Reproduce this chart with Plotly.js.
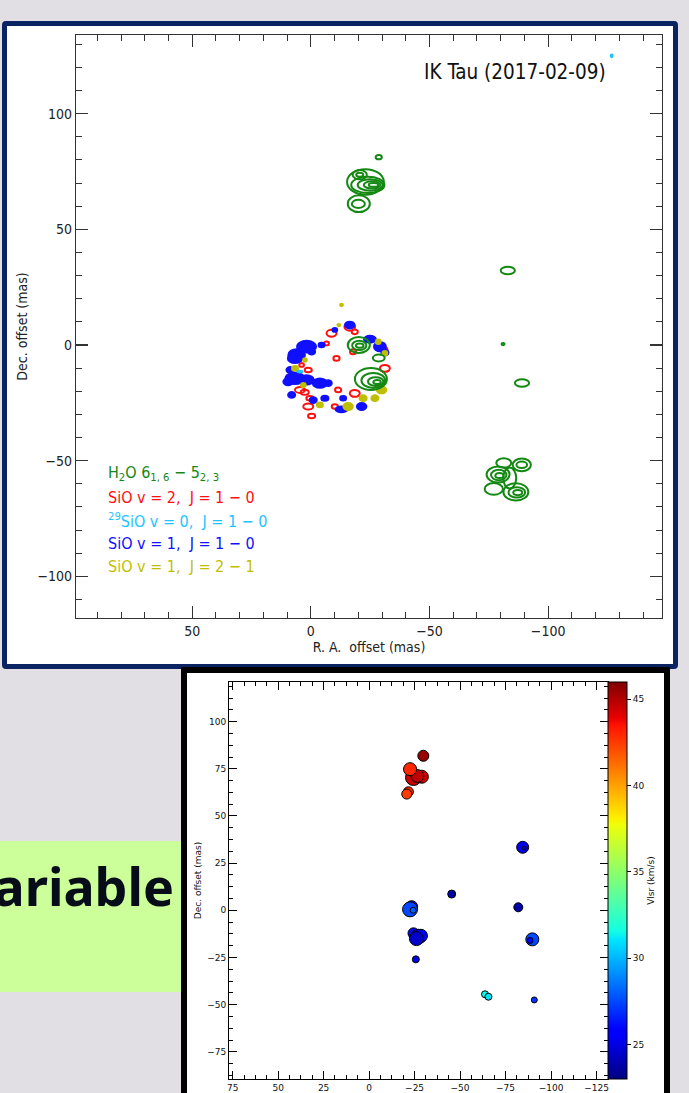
<!DOCTYPE html>
<html><head><meta charset="utf-8">
<script src="https://cdn.plot.ly/plotly-3.0.1.min.js"></script>
<style>
html,body{margin:0;padding:0;}
body{width:689px;height:1093px;overflow:hidden;background:#e1dfe4;position:relative;font-family:"DejaVu Sans",sans-serif;}
#panelTop{position:absolute;left:2px;top:21px;width:676px;height:648px;box-sizing:border-box;border:5px solid #0a2463;border-radius:4px;background:#fff;}
#greenBox{position:absolute;left:0;top:841px;width:182px;height:151px;background:#ccff99;overflow:hidden;}
#greenText{position:absolute;right:8px;top:19px;font-family:"Noto Sans",sans-serif;font-weight:bold;font-size:52px;line-height:52px;color:#060d18;white-space:nowrap;}
#panelBottom{position:absolute;left:181px;top:667px;width:489px;height:480px;box-sizing:border-box;border:6px solid #000;background:#fff;}
#chartTop{position:absolute;left:0;top:0;width:689px;height:670px;}
#chartBottom{position:absolute;left:187px;top:673px;width:482px;height:470px;}
</style></head>
<body>
<div id="panelTop"></div>
<div id="greenBox"><div id="greenText">ariable</div></div>
<div id="panelBottom"></div>
<div id="chartTop"></div>
<div id="chartBottom"></div>
<script>
// ---------- Top chart: maser contour components (RA offset, Dec offset, width, height in mas) ----------
const h2oX = [-28.6,-23.0,-20.6,-20.6,-24.0,-25.0,-25.8,-26.4,-20.2,-20.0,-83.0,-81.0,-89.0,-78.9,-79.2,-79.5,-81.3,-88.9,-88.9,-77.1,-86.4,-86.8,-87.2,-83.8,-20.2,-20.4,-20.6,-28.6,-25.3,-26.3,-27.3,-27.9];
const h2oY = [81.2,70.5,73.6,73.6,69.2,69.2,69.2,69.2,61.1,61.0,32.2,0.4,-16.4,-56.0,-56.2,-56.4,-51.0,-51.8,-51.8,-62.2,-63.5,-63.7,-63.8,-57.5,0.0,-0.2,-0.3,-5.6,-14.7,-15.3,-15.8,-16.0];
const h2oW = [2.6,15.5,6.0,3.0,14.0,10.5,7.0,4.0,9.3,5.5,6.0,1.3,6.0,9.7,6.5,3.5,6.3,7.7,4.5,7.7,10.5,7.0,3.8,5.5,9.3,6.0,3.2,5.0,13.5,10.0,6.5,3.2];
const h2oH = [1.8,11.0,4.0,1.8,7.0,5.0,3.2,1.6,7.3,3.5,3.2,1.0,3.2,6.9,4.5,2.2,4.0,5.5,2.8,5.0,7.5,4.5,2.2,9.0,6.9,4.0,1.8,3.0,9.5,6.5,3.8,1.8];

const sio2X = [-8.7,-16.4,-18.5,-10.8,-17.8,1.1,-31.2,4.6,2.6,0.4,1.1,-0.3,-11.5,-18.5,-10.1,-6.6,3.9,-31.0];
const sio2Y = [5.1,7.9,5.7,-5.8,-2.9,-10.8,-10.1,-19.4,-20.4,-23.0,-26.6,-30.7,-19.4,-20.9,-26.6,0.7,-8.6,-2.0];
const sio2W = [4.2,4.5,2.6,2.6,2.6,3.0,4.2,4.2,3.4,3.0,4.2,3.0,2.6,4.2,2.6,2.0,2.0,2.5];
const sio2H = [3.0,3.4,2.0,2.0,2.2,2.0,3.0,2.6,2.2,2.0,2.6,2.0,2.0,3.0,2.0,1.6,1.6,2.0];

const si29X = [4.6,-126.8];
const si29Y = [-11.5,125.0];
const si29W = [2.2,0.8];
const si29H = [0.8,1.2];

const sio1X = [-16.4,-10.1,-4.5,1.8,6.0,6.7,-0.3,-24.9,-29.1,-31.2,6.7,1.8,-3.8,-7.3,9.6,8.8,8.1,-5.9,-1.0,-13.6,-12.9,-21.4];
const sio1Y = [8.6,6.5,0.0,-0.7,-4.3,-5.8,-2.9,2.5,-0.7,-3.3,-14.4,-15.1,-16.5,-16.5,-15.9,-10.8,-21.6,-23.0,-23.8,-23.0,-27.8,-26.6];
const sio1W = [4.0,2.0,2.5,8.0,7.0,6.0,3.0,5.0,5.0,3.0,8.0,6.0,6.0,3.0,4.0,3.0,3.0,3.0,3.0,2.5,5.0,4.0];
const sio1H = [3.0,1.6,2.0,5.0,5.0,4.0,2.5,3.0,4.0,2.5,5.0,4.0,4.0,2.5,3.0,2.5,2.5,2.2,2.5,2.0,2.5,3.0];

const sio21X = [-12.9,-11.8,-28.4,-31.2,6.7,3.2,-29.8,-27.0,-22.0,-3.8,-15.7,2.5];
const sio21Y = [17.3,8.6,1.4,-3.6,-10.1,-17.3,-19.4,-23.0,-23.0,-25.9,-26.6,-6.5];
const sio21W = [1.2,1.2,2.0,2.0,2.5,2.0,4.0,3.0,3.0,2.5,4.0,1.5];
const sio21H = [1.0,1.0,2.0,2.0,2.0,1.8,3.0,2.5,2.5,2.0,3.0,1.5];

const legendLabels = [
  'H<sub>2</sub>O 6<sub>1, 6</sub> \u2212 5<sub>2, 3</sub>',
  'SiO v = 2,\u00a0 J = 1 \u2212 0',
  '<sup>29</sup>SiO v = 0,\u00a0 J = 1 \u2212 0',
  'SiO v = 1,\u00a0 J = 1 \u2212 0',
  'SiO v = 1,\u00a0 J = 2 \u2212 1'
];
const topTitle = 'IK Tau (2017-02-09)';

// ---------- Bottom chart: H2O maser spots ----------
const ptsX   = [-29.8,-24.4,-29.0,-26.5,-22.5,-21.6,-20.7,-84.4,-85.2,-45.4,-46.0,-23.4,-22.5,-24.2,-82.0,-24.4,-27.0,-28.5,-26.0,-25.7,-89.7,-88.5,-63.7,-65.6,-90.8];
const ptsY   = [81.9,70.4,70.8,71.2,74.8,62.8,61.6,33.4,33.0,8.6,8.6,1.9,0.5,0.0,1.6,-12.2,-14.0,-13.5,-15.0,-26.0,-15.4,-16.0,-44.5,-45.8,-47.5];
const ptsVel = [45.5,44.5,44.5,44.8,43.0,42.8,42.5,25.3,24.5,25.0,25.5,26.0,27.5,28.0,23.8,26.0,25.0,25.5,24.5,25.0,27.5,25.5,31.5,31.0,27.0];
const ptsSize= [11,16,13,13,13,10,10,12,4,8,4,12,15,6,9,11,15,13,14,7,13,6,7,7,6];
const cbTicks = [25,30,35,40,45];

// ---------- styles ----------
const fontC = '"DejaVu Sans Condensed", "DejaVu Sans", sans-serif';
const colH2O = '#138813', colSiO2 = '#ff1010', col29 = '#1ec4ff', colSiO1 = '#1010ff', colSiO21 = '#bfbf00';
const legendColors = [colH2O, colSiO2, col29, colSiO1, colSiO21];

const shapes = [];
function addContours(xs, ys, ws, hs, color, filled) {
  for (let i = 0; i < xs.length; i++) {
    shapes.push({type:'circle', xref:'x', yref:'y',
      x0: xs[i] - ws[i]/2, x1: xs[i] + ws[i]/2,
      y0: ys[i] - hs[i]/2, y1: ys[i] + hs[i]/2,
      line:{color:color, width:2}, fillcolor: filled ? color : 'rgba(0,0,0,0)'});
  }
}
addContours(sio2X, sio2Y, sio2W, sio2H, colSiO2, false);
addContours(sio1X, sio1Y, sio1W, sio1H, colSiO1, true);
addContours(sio21X, sio21Y, sio21W, sio21H, colSiO21, true);
addContours(h2oX, h2oY, h2oW, h2oH, colH2O, false);
addContours(si29X, si29Y, si29W, si29H, col29, false);

const legendY = [0.2487, 0.2075, 0.168, 0.1286, 0.0875];
const annTop = [{text: topTitle, xref:'paper', yref:'paper', x:0.908, y:0.9365, xanchor:'right', yanchor:'middle', showarrow:false, font:{family:fontC, size:20.5, color:'#111'}}];
legendLabels.forEach((t,i)=>annTop.push({text:t, xref:'paper', yref:'paper', x:0.0512, y:legendY[i], xanchor:'left', yanchor:'middle', showarrow:false, font:{family:fontC, size:16, color:legendColors[i]}}));

function axisTop(range, title, standoff) {
  return {range:range, autorange:false, tick0:0, dtick:50, ticks:'inside', ticklen:12, tickwidth:1.2, tickcolor:'#333',
    showline:true, linecolor:'#333', linewidth:1.2, mirror:'ticks', showgrid:false, zeroline:false, automargin:true,
    tickfont:{family:fontC, size:14, color:'#222'},
    minor:{tick0:0, dtick:10, ticks:'inside', ticklen:6, tickwidth:1, tickcolor:'#333', showgrid:false},
    title:{text:title, standoff:standoff, font:{family:fontC, size:14, color:'#222'}}};
}
const layoutTop = {
  width:689, height:670, margin:{l:76, r:27, t:35, b:52, autoexpand:false},
  paper_bgcolor:'rgba(0,0,0,0)', plot_bgcolor:'rgba(0,0,0,0)', showlegend:false,
  xaxis: axisTop([99,-148], 'R. A.\u00a0 offset (mas)', 3),
  yaxis: axisTop([-118,134], 'Dec. offset (mas)', 6),
  shapes: shapes, annotations: annTop
};
Plotly.newPlot('chartTop', [{type:'scatter', mode:'markers', x:[], y:[], hoverinfo:'skip'}], layoutTop, {staticPlot:true});

// ---------- Bottom chart ----------
const jet = [[0,'#000080'],[0.11,'#0000ff'],[0.125,'#0000ff'],[0.34,'#00dbff'],[0.35,'#00e5ff'],[0.375,'#14ffe2'],[0.64,'#eeff08'],[0.65,'#f7f500'],[0.66,'#ffec00'],[0.89,'#ff1300'],[0.91,'#e80000'],[1,'#800000']];
const fontB = '"DejaVu Sans", sans-serif';
function axisBot(range, title) {
  return {range:range, autorange:false, tick0:0, dtick:25, ticks:'inside', ticklen:8, tickwidth:1, tickcolor:'#000',
    showline:true, linecolor:'#000', linewidth:1, mirror:'ticks', showgrid:false, zeroline:false,
    tickfont:{family:fontB, size:9, color:'#111'},
    minor:{tick0:0, dtick:6.25, ticks:'inside', ticklen:4, tickwidth:1, tickcolor:'#000', showgrid:false},
    title:{text:title, font:{family:fontB, size:9, color:'#111'}}};
}
const layoutBot = {
  width:482, height:470, margin:{l:42, r:61, t:9, b:64},
  paper_bgcolor:'rgba(0,0,0,0)', plot_bgcolor:'rgba(0,0,0,0)', showlegend:false,
  xaxis: axisBot([77,-131.3], ''),
  yaxis: axisBot([-89.4,121], 'Dec. offset (mas)')
};
const traceBot = {type:'scatter', mode:'markers', x:ptsX, y:ptsY, hoverinfo:'skip',
  marker:{size:ptsSize, color:ptsVel, colorscale:jet, cmin:23, cmax:46, opacity:1, line:{color:'#000', width:1},
    colorbar:{x:1, xref:'paper', xanchor:'left', xpad:0, y:0.5, yanchor:'middle', ypad:0, len:1, lenmode:'fraction',
      thickness:19, thicknessmode:'pixels', outlinewidth:1, outlinecolor:'#000',
      tickvals:cbTicks, ticks:'outside', ticklen:4, tickcolor:'#000', tickfont:{family:fontB, size:9, color:'#111'},
      title:{text:'Vlsr (km/s)', side:'right', font:{family:fontB, size:9, color:'#111'}}}}};
Plotly.newPlot('chartBottom', [traceBot], layoutBot, {staticPlot:true});
</script>
</body></html>
